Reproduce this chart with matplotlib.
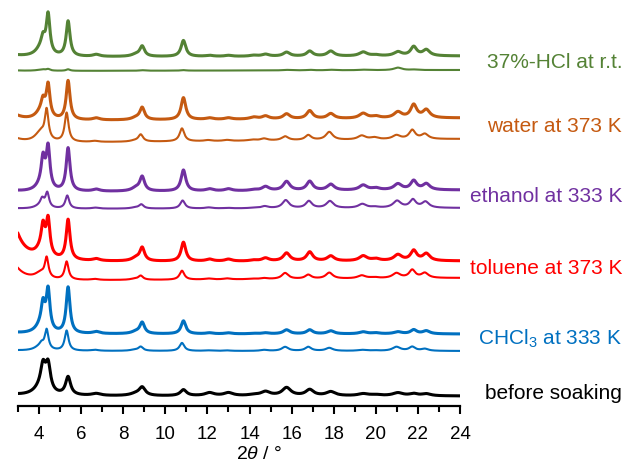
import numpy as np
import matplotlib
matplotlib.use("Agg")
import matplotlib.pyplot as plt
from matplotlib.transforms import blended_transform_factory

plt.rcParams['font.family'] = ['Liberation Sans', 'DejaVu Sans']
plt.rcParams['mathtext.fontset'] = 'custom'
plt.rcParams['mathtext.rm'] = 'Liberation Sans'
plt.rcParams['mathtext.it'] = 'Liberation Sans:italic'

# ---- peak table (2theta positions and FWHM, degrees) ----
peak_pos = [2.5, 4.1, 4.19, 4.43, 5.38, 6.72, 8.6, 8.9, 10.86, 12.1, 13.0, 14.2,
            14.76, 15.76, 16.86, 17.86, 19.4, 20.0, 21.05, 21.8, 22.4]
peak_fwhm = [1.0, 0.6, 0.21, 0.21, 0.22, 0.4, 0.5, 0.27, 0.27, 0.4, 0.4, 0.45,
             0.4, 0.38, 0.35, 0.4, 0.45, 0.45, 0.45, 0.35, 0.4]

# ---- peak intensities per pattern ----
green_thick = [3, 8, 11, 39, 35, 2, 2, 10, 16, 1, 1, 1, 2, 4, 5, 5, 4, 1, 4, 9, 6]
green_thin = [1, 1, 0.5, 1.5, 1.5, 0, 0, 0.5, 0.5, 0, 0, 0, 0, 0.5, 0.5, 0.5, 0.5, 0, 2.5, 0.5, 0]
orange_thick = [10, 8, 12, 32, 39, 2, 2, 12, 22, 1.5, 1.5, 2, 3, 5, 8, 5, 5, 2, 6, 13, 8]
orange_thin = [8, 8, 2, 30, 29, 1, 1, 7, 13, 1, 1, 1, 2, 4, 5, 8, 4, 2, 4, 9, 5]
purple_thick = [2, 6, 27, 41, 43, 2, 3, 14, 21, 2, 2, 1, 4, 9, 9, 6, 5, 2, 6, 9, 6]
purple_thin = [1, 3, 7, 14.6, 13, 1, 1, 4, 8, 1, 0.5, 0.5, 2, 8, 7, 7, 4, 1, 7, 8, 6]
red_thick = [55, 8, 24, 35, 40, 2, 3, 13, 19, 2, 2, 1, 3, 8, 9, 5, 5, 2, 6, 10, 7]
red_thin = [25, 5, 1, 20, 18, 1, 1, 4, 9, 1, 1, 0.5, 1, 6, 4, 6, 3, 1, 5, 8, 5]
blue_thick = [2, 8, 22, 40, 46, 2, 2, 11, 13, 1, 1, 0.5, 1, 4, 4, 3, 2, 1, 2, 4, 3]
blue_thin = [1, 4, 3.4, 19.6, 20, 1, 1, 4, 8, 0.5, 0.5, 0, 1, 4, 4, 3, 1, 0.5, 4, 4, 2]
before = [2, 8, 22, 26, 18, 2, 2, 8, 6, 3, 3, 1, 4, 8, 6, 4, 2, 1, 3, 2, 2]

# stacking offsets (left end, right end)
offsets = {
    'green_thick': (349, 350), 'green_thin': (335, 336),
    'orange_thick': (285, 288), 'orange_thin': (263, 267),
    'purple_thick': (214, 216), 'purple_thin': (197, 198),
    'red_thick': (144, 145), 'red_thin': (125, 128),
    'blue_thick': (72, 72), 'blue_thin': (55, 55),
    'before': (10, 10),
}
shifts = {'orange_thin': -0.07, 'red_thin': -0.07, 'blue_thin': -0.07,
          'purple_thin': -0.04, 'green_thin': 0.0}
width_scale = {'before': 1.3}

colors = {'green': '#548235', 'orange': '#c55a11', 'purple': '#7030a0',
          'red': '#ff0000', 'blue': '#0070c0', 'black': '#000000'}

series = [
    ('green_thick', green_thick, 'green', 2.2),
    ('green_thin', green_thin, 'green', 1.5),
    ('orange_thick', orange_thick, 'orange', 2.2),
    ('orange_thin', orange_thin, 'orange', 1.5),
    ('purple_thick', purple_thick, 'purple', 2.2),
    ('purple_thin', purple_thin, 'purple', 1.5),
    ('red_thick', red_thick, 'red', 2.2),
    ('red_thin', red_thin, 'red', 1.5),
    ('blue_thick', blue_thick, 'blue', 2.2),
    ('blue_thin', blue_thin, 'blue', 1.5),
    ('before', before, 'black', 2.2),
]

labels = ['37%-HCl at r.t.', 'water at 373 K', 'ethanol at 333 K',
          'toluene at 373 K', r'CHCl$_3$ at 333 K', 'before soaking']
label_colors = ['green', 'orange', 'purple', 'red', 'blue', 'black']
label_y = [345, 280, 210, 138, 68, 13]

fig = plt.figure(figsize=(6.24, 4.64), dpi=100)
ax = fig.add_axes([18 / 624, 57 / 464, (460 - 18) / 624, 407 / 464])

x = np.linspace(3, 24, 2500)
for name, amps, col, lw in series:
    sh = shifts.get(name, 0.0)
    ws = width_scale.get(name, 1.0)
    y = np.zeros_like(x)
    for i, (p, w, a) in enumerate(zip(peak_pos, peak_fwhm, amps)):
        hw = w * (ws if i > 0 else 1.0) / 2.0
        y += a / (1.0 + ((x - (p + (sh if i > 0 else 0))) / hw) ** 2)
    b0, b1 = offsets[name]
    y += b0 + (b1 - b0) * (x - 3) / 21.0
    ax.plot(x, y, color=colors[col], lw=lw, solid_joinstyle='round')

ax.set_xlim(3, 24)
ax.set_ylim(0, 407)
for s in ['left', 'right', 'top']:
    ax.spines[s].set_visible(False)
ax.spines['bottom'].set_linewidth(1.6)
ax.set_yticks([])
ax.set_xticks(np.arange(4, 25, 2))
ax.set_xticks(np.arange(3, 25, 2), minor=True)
ax.tick_params(axis='x', which='major', length=6, width=1.5, direction='out',
               labelsize=13.5, pad=8)
ax.tick_params(axis='x', which='minor', length=4, width=1.5, direction='out')
ax.set_xlabel(r'2$\mathit{\theta}$ / °', fontsize=14)
ax.xaxis.set_label_coords(0.545, -0.095)

tr = blended_transform_factory(fig.transFigure, ax.transData)
for lab, c, yy in zip(labels, label_colors, label_y):
    ax.text(0.997, yy, lab, color=colors[c], fontsize=15, ha='right',
            va='center', transform=tr, clip_on=False)

fig.savefig('out.png', dpi=100)
